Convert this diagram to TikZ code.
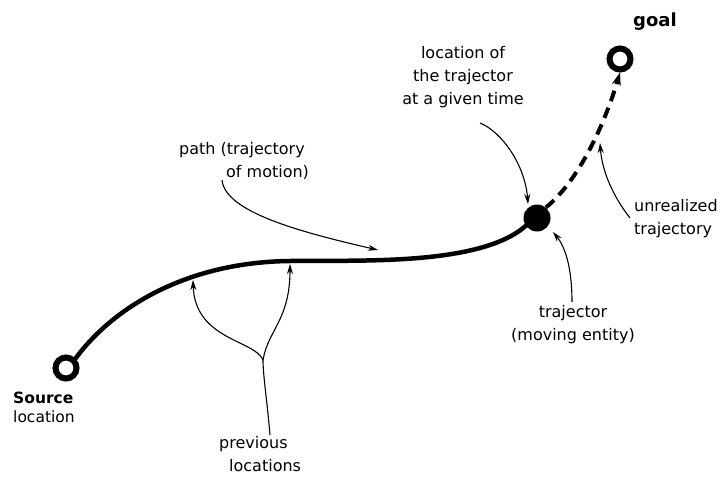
\documentclass[tikz,border=0pt]{standalone}
\usepackage{fontspec}
\setmainfont{DejaVu Sans}
\usetikzlibrary{arrows.meta}
\begin{document}
\begin{tikzpicture}[x=1pt,y=-1pt,
  lbl/.style={font=\fontsize{16}{23}\selectfont, inner sep=0pt},
  thinarrow/.style={line width=1.1pt, -{Stealth[length=10pt,width=6pt]}},
  ring/.style={circle, draw, line width=6pt, minimum size=21pt, inner sep=0pt},
  pathline/.style={line width=4.5pt, line cap=round},
  dashline/.style={line width=4pt, dash pattern=on 11pt off 7pt, -{Stealth[length=13pt,width=9pt]}}]
\fill[white] (0,0) rectangle (722,484);
\useasboundingbox (0,0) rectangle (722,484);

% locations
\node[ring] (src) at (66,368) {};
\node[ring] (goal) at (620,59) {};
\node[circle, fill=black, minimum size=27pt, inner sep=0pt] (dot) at (537,218) {};

% the path
\coordinate (top) at (290,261);
\draw[pathline] (src.45) .. controls (115,305) and (190,262) .. (top)
  .. controls (360,260) and (480,266) .. (dot.215);
% unrealized trajectory
\draw[dashline] (dot.50) .. controls (580,180) and (606,120) .. (goal.south);

% labels
\node[lbl, anchor=north west, align=left, font=\fontsize{15.5}{19}\selectfont] (srclbl) at (13,392) {\textbf{Source}\\location};
\node[lbl, anchor=west, font=\fontsize{18}{20}\selectfont\bfseries] (goallbl) at (633,22) {goal};
\node[lbl, anchor=north west, align=left] (pathlbl) at (179,142) {path (trajectory\\\hspace*{47pt}of motion)};
\node[lbl, anchor=north, align=center] (loclbl) at (463,46) {location of\\the trajector\\at a given time};
\node[lbl, anchor=north west, align=left] (unrlbl) at (634,199) {unrealized\\trajectory};
\node[lbl, anchor=north, align=center] (trjlbl) at (573,305) {trajector\\(moving entity)};
\node[lbl, anchor=north west, align=left] (prevlbl) at (219,436) {previous\\\hspace*{10pt}locations};

% pointer arrows
\coordinate (pa) at (222,180);
\coordinate (pb) at (378,250);
\draw[thinarrow] (pa) .. controls (225,212) and (300,232) .. (pb);

\coordinate (la) at (480,123);
\coordinate (lb) at (528,204);
\draw[thinarrow] (la) .. controls (502,132) and (525,165) .. (lb);

\coordinate (ua) at (630,218);
\coordinate (ub) at (600,143);
\draw[thinarrow] (ua) .. controls (612,195) and (602,170) .. (ub);

\coordinate (ta) at (572,302);
\coordinate (tb) at (553,232);
\draw[thinarrow] (ta) .. controls (572,270) and (566,248) .. (tb);

\coordinate (pl) at (270,435);
\coordinate (mg) at (263,360);
\coordinate (p1) at (193,280);
\coordinate (p2) at (290,264);
\draw[line width=1.1pt] (pl) .. controls (267,400) and (263,375) .. (mg);
\draw[thinarrow] (mg) .. controls (255,340) and (195,340) .. (p1);
\draw[thinarrow] (mg) .. controls (268,330) and (290,320) .. (p2);
\end{tikzpicture}
\end{document}
